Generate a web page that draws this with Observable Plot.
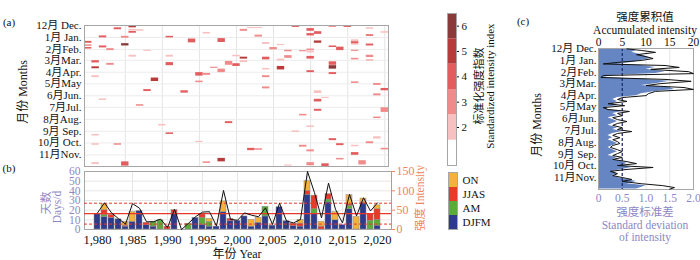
<!DOCTYPE html>
<html><head><meta charset="utf-8">
<script src="https://cdn.jsdelivr.net/npm/d3@7"></script>
<script src="https://cdn.jsdelivr.net/npm/@observablehq/plot@0.6"></script>
<style>
body{margin:0;background:#fff;}
#root{position:relative;width:700px;height:260px;overflow:hidden;background:#fff;font-family:"Liberation Serif","Noto Sans CJK SC",serif;color:#111;}
#root svg{position:absolute;}
</style></head><body><div id="root"></div>
<script>
// ---------- Panel (a): events (year, start day of season from 1 Dec, duration in days, standardized index)
const evYear  = [1984,1986,1986,1986,1987,1982,1985,1991,1980,1980,1980,1985,1982,1983,1988,1986,1991,1981,1983,1991,1981,1981,1989,1988,1993,1982,1987,1990,1991,1981,1981,1984,1981,1985,
 1996,2001,2002,2003,2003,1994,1998,2004,2005,2006,2007,2000,2001,2001,2004,2006,2007,1999,2000,1997,1998,2006,2004,1995,1996,2004,1995,2004,1999,1995,2002,2003,1996,1998,2007,
 2008,2010,2010,2011,2013,2015,2018,2018,2020,2011,2013,2014,2016,2016,2016,2018,2009,2010,2010,2016,2010,2018,2018,2016,2013,2013,2013,2010,2016,2019,2020,2019,2011,2012,2011,2011,2020,2009,2019,2010,2008,2013,2018,2019,2009,2014,2016,2020,2010,2016,2014,2017,2010,2012];
const evStart = [6,1,10,15,11,27,28,28,41,50,57,47,53,60,64,77,77,91,98,96,107,130,136,166,169,190,205,256,278,282,306,306,355,353,
 18,10,5,5,25,35,34,44,57,49,64,77,82,91,82,87,78,93,99,108,113,106,111,122,124,130,144,159,249,300,318,319,353,344,361,
 1,8,21,16,1,1,6,24,16,40,53,56,37,42,48,48,65,61,66,64,80,77,88,85,94,104,122,117,146,150,163,177,169,186,191,217,213,230,237,260,273,293,301,288,310,306,310,318,322,329,344,350,355,358];
const evDur   = [5,5,3,5,4,5,5,4,5,4,4,6,5,5,3,5,5,6,5,8,5,5,9,5,6,4,4,4,4,4,4,4,5,11,
 4,5,3,3,5,10,10,5,6,3,4,4,5,5,7,5,7,10,7,3,9,9,4,9,5,5,4,5,5,3,6,4,4,9,3,
 4,7,6,7,4,4,4,4,4,6,4,9,5,6,3,5,3,4,5,3,7,6,5,4,9,9,5,5,4,5,6,5,7,3,7,5,12,4,4,4,4,5,5,6,5,5,4,4,5,7,4,11,8,7];
const evIndex = [4,5,2,4,2,4,3,4,4,3,4,6,4,3,2,2,2,4,3,4,5,2,5,4,4,2,3,2,4,2,2,3,2,4,
 2,3,2,2,3,4,4,2,3,2,3,2,5,2,4,2,3,3,4,3,3,5,2,4,3,3,3,3,4,2,4,3,3,5,2,
 4,4,4,4,3,4,2,4,2,5,4,4,2,4,2,4,3,3,2,3,4,3,2,3,4,6,4,4,3,3,4,3,2,2,4,4,3,3,3,2,2,4,3,2,3,4,2,3,3,4,3,3,3,4];
const indexLevels = [1,2,3,4,5,6];
const indexTicks = [2,3,4,5,6];
const indexColors = ["#ffffff","#f7c1c1","#f08b8b","#e35d5f","#b83b3b","#8b3a3a"];
const monthStart = [0,31,62,90,121,151,182,212,243,274,304,335];
const monthLabel = ["12月 Dec.","1月 Jan.","2月Feb.","3月Mar.","4月Apr.","5月May","6月Jun.","7月Jul.","8月Aug.","9月 Sep.","10月 Oct.","11月Nov."];
const gridYears = [1985,1990,1995,2000,2005,2010,2015,2020];

// ---------- Panel (b): days per season and intensity
const years = d3.range(1980, 2021);
const djfm = [16,13,12,10.5,3,8,19,4.5,3,0,0,17,0,0,12,5,3,3,18,8.5,9,13.5,3,7,13.5,4,23,8.5,3.5,3,36,16,0,28,9.5,4.5,21,0,27,0,4];
const am   = [0,2,0,0,0,0,0,0,5,9.5,0,0,0,6,0,7,5,0,0,0,0,0,0,0,10,0,0,0,0,0,0,5,0,3,0,0,3.5,0,0,9,6];
const jjas = [0,5,3,0,1,0,0,2.5,0,0,3,3,0,0,0,3.5,0,0,0,2.5,0,0,0,0,0,0,0,0,2.5,3,4,14,3,5.5,0,0,1.5,0,1,7,11];
const on   = [0,6,0,0,4,10,0,0,0,0,0,0,0,0,0,0,3,0,11,0,0,0,7,5,0,0,0,0,0,4,10,0,5,0,8.5,0,9.5,13,4,0,4];
const intensity = [43,69,43,28,14,67,55,20,20,27,5,52,0,16,33,45,46,9,101,26,24,43,37,33,56,13,68,22,17,26,150,95,30,120,52,17,91,35,82,48,69];
const intensityMean = [41];
const intensityBand = [14,68];
const seasons = ["DJFM","AM","JJAS","ON"];
const legendOrder = ["ON","JJAS","AM","DJFM"];
const seasonColors = ["#2e3b8c","#5aab3c","#e8392b","#f3b33b"];
const tickYears = [1980,1985,1990,1995,2000,2005,2010,2015,2020];

// ---------- Panel (c): accumulated intensity and its standard deviation by day of season
const profDay = [1,5,10,16,21,26,31,36,40,44,49,54,60,65,70,75,80,85,91,96,101,106,111,117,122,127,132,137,143,148,153,158,163,168,174,179,184,189,194,199,205,210,215,220,225,231,236,241,246,251,256,262,267,272,277,282,287,293,298,303,308,313,318,324,329,334,339,344,350,355,360,364];
const accumulated = [6,8,7,9,10,11,9,7,4,9,12,10,14,12,3,1,10,15,12,9,15,16,12,9,8,4,3,4,3,4,1.5,2,5,3,4,2,3,4,3,2,4,3,5,3,2,3,2,3,4,3,2,3,4,3,2,4,3,5,6,5,7,5,3,4,3,4,6,8,6,10,9,8];
const stdDev = [0.6,0.9,1.2,0.8,1.0,1.15,0.9,0.4,0.1,1.4,1.7,1.1,1.9,2.0,0.1,0.05,1.4,1.95,1.3,1.0,1.8,2.0,1.2,1.05,1.0,0.5,0.4,0.6,0.2,0.55,0.1,0.2,0.65,0.4,0.5,0.3,0.4,0.6,0.4,0.3,0.5,0.4,0.7,0.4,0.3,0.45,0.3,0.4,0.45,0.3,0.25,0.4,0.5,0.4,0.3,0.5,0.3,0.6,0.8,0.4,1.15,0.6,0.25,0.4,0.3,0.5,0.7,0.5,0.9,1.35,1.6,1.5];
const accTicks = [0,5,10,15,20];
const stdTicks = [0,0.5,1,1.5,2];
const accRef = [5];

// ---------- helpers
const root = document.getElementById("root");
const FONT = '"Liberation Serif","Noto Sans CJK SC",serif';
const LAV = "#8c87c6", ORANGE = "#f0845c";
const baseStyle = {fontFamily: FONT, fontSize: "11px", background: "transparent", color: "#111", overflow: "visible"};
function put(svg, left, top){ svg.style.left = left + "px"; svg.style.top = top + "px"; root.append(svg); }
function txt(s, x, y, o = {}){
  const d = document.createElement("div");
  d.textContent = s;
  d.style.cssText = `position:absolute;left:${x}px;top:${y}px;white-space:nowrap;line-height:1;font-size:${o.size||11}px;color:${o.color||"#111"};transform:translate(-50%,-50%)${o.rot?" rotate(-90deg)":""};`;
  root.append(d);
}
const colorIdx = {type: "threshold", domain: [1.5,2.5,3.5,4.5,5.5], range: indexColors};
const monthFmt = d => monthLabel[monthStart.indexOf(d)];

// ---------- Panel (a)
const events = evYear.map((y, i) => ({year: y, start: evStart[i], end: Math.min(365, evStart[i] + evDur[i]), idx: evIndex[i]}));
put(Plot.plot({
  width: 400, height: 170, marginLeft: 84, marginRight: 12, marginTop: 25, marginBottom: 4,
  style: baseStyle,
  x: {domain: [1979.5, 2020.5], axis: null, label: null},
  y: {domain: [0, 365], reverse: true, axis: null, label: null},
  color: colorIdx,
  marks: [
    Plot.ruleX(gridYears, {stroke: "#e4e4e4"}),
    Plot.ruleY(monthStart, {stroke: "#ececec"}),
    Plot.rect(events, {x1: d => d.year - 0.5, x2: d => d.year + 0.5, y1: "start", y2: "end", fill: "idx"}),
    Plot.frame({stroke: "#a6a6a6"}),
    Plot.axisY(monthStart, {tickFormat: monthFmt, tickSize: 0, tickPadding: 3, fontSize: 11, label: null})
  ]
}), 0, 0);

// colour bar
put(Plot.plot({
  width: 40, height: 170, marginLeft: 7, marginRight: 24, marginTop: 13, marginBottom: 5,
  style: baseStyle,
  y: {domain: [0.5, 6.5], axis: null, label: null},
  color: colorIdx,
  marks: [
    Plot.rect(indexLevels, {y1: d => d - 0.5, y2: d => d + 0.5, fill: d => d}),
    Plot.frame({stroke: "#a6a6a6"}),
    Plot.axisY(indexTicks, {anchor: "right", tickSize: 2, tickPadding: 3, fontSize: 11, label: null})
  ]
}), 440, 0);

// ---------- Panel (b)
const seasonArrays = [djfm, am, jjas, on];
const bars = years.flatMap((y, i) => seasons.map((s, k) => ({year: y, season: s, days: seasonArrays[k][i]}))).filter(d => d.days > 0);
const xBand = {type: "band", domain: years, paddingInner: 0.12, paddingOuter: 0.06, label: null};
put(Plot.plot({
  width: 400, height: 100, marginLeft: 84, marginRight: 9, marginTop: 11, marginBottom: 31,
  style: baseStyle,
  x: {...xBand, axis: null},
  y: {domain: [0, 60], axis: null, label: null},
  color: {domain: seasons, range: seasonColors},
  marks: [
    Plot.ruleY([10,20,30,40,50], {stroke: "#e6e6e6"}),
    Plot.ruleX(tickYears.slice(1, -1), {stroke: "#e6e6e6"}),
    Plot.barY(bars, {x: "year", y: "days", fill: "season", order: seasons, stroke: "#8c8c8c", strokeWidth: 0.5}),
    Plot.frame({stroke: "#a6a6a6"}),
    Plot.axisY([0,10,20,30,40,50,60], {tickSize: 0, tickPadding: 4, fontSize: 11.5, color: LAV, label: null}),
    Plot.axisX(tickYears, {tickSize: 0, tickPadding: 6, fontSize: 12.5, color: "#111", label: null})
  ]
}), 0, 160);

const lineData = years.map((y, i) => ({year: y, value: intensity[i]}));
put(Plot.plot({
  width: 400, height: 100, marginLeft: 84, marginRight: 9, marginTop: 11, marginBottom: 31,
  style: baseStyle,
  x: {...xBand, axis: null},
  y: {domain: [0, 150], axis: null, label: null},
  marks: [
    Plot.ruleY(intensityMean, {stroke: "#e8392b", strokeWidth: 1.2}),
    Plot.ruleY(intensityBand, {stroke: "#e8392b", strokeWidth: 1, strokeDasharray: "3,2"}),
    Plot.line(lineData, {x: "year", y: "value", stroke: "#111", strokeWidth: 1}),
    Plot.axisY([0,50,100,150], {anchor: "right", tickSize: 3, tickPadding: 2, fontSize: 12, color: ORANGE, label: null})
  ]
}), 0, 160);
// right axis line of (b)
const ax = document.createElement("div");
ax.style.cssText = `position:absolute;left:390.5px;top:171px;width:1px;height:58px;background:${ORANGE};`;
root.append(ax);

// legend of (b)
put(Plot.plot({
  width: 60, height: 62, marginLeft: 8, marginRight: 43, marginTop: 2, marginBottom: 3,
  style: baseStyle,
  y: {type: "band", domain: legendOrder, padding: 0, axis: null, label: null},
  color: {domain: seasons, range: seasonColors},
  marks: [
    Plot.cell(legendOrder, {y: d => d, fill: d => d}),
    Plot.frame({stroke: "#a6a6a6"}),
    Plot.axisY({anchor: "right", tickSize: 0, tickPadding: 5, fontSize: 11, label: null})
  ]
}), 440, 170);

// ---------- Panel (c)
const prof = profDay.map((d, i) => ({day: d, acc: accumulated[i], std: stdDev[i]}));
put(Plot.plot({
  width: 260, height: 260, marginLeft: 158, marginRight: 7, marginTop: 48, marginBottom: 71,
  style: baseStyle,
  x: {domain: [0, 20], axis: null, label: null},
  y: {domain: [0, 365], reverse: true, axis: null, label: null},
  marks: [
    Plot.ruleX([10, 15], {stroke: "#e4e4e4"}),
    Plot.areaX(prof, {y: "day", x1: 0, x2: "acc", fill: "#5d7fc0", fillOpacity: 0.95}),
    Plot.ruleX(accRef, {stroke: "#1f2c72", strokeWidth: 1.3, strokeDasharray: "3,2"}),
    Plot.frame({stroke: "#a6a6a6"}),
    Plot.axisX(accTicks, {anchor: "top", tickSize: 0, tickPadding: 3, fontSize: 11.5, label: null}),
    Plot.axisY(monthStart, {tickFormat: monthFmt, tickSize: 0, tickPadding: 2, fontSize: 11, label: null})
  ]
}), 440, 0);
put(Plot.plot({
  width: 260, height: 260, marginLeft: 158, marginRight: 7, marginTop: 48, marginBottom: 71,
  style: baseStyle,
  x: {domain: [0, 2], axis: null, label: null},
  y: {domain: [0, 365], reverse: true, axis: null, label: null},
  marks: [
    Plot.line(prof, {x: "std", y: "day", stroke: "#111", strokeWidth: 1}),
    Plot.axisX(stdTicks, {anchor: "bottom", tickSize: 0, tickPadding: 4, fontSize: 11.5, color: LAV, label: null, tickFormat: d => d === 0 ? "0" : d.toFixed(1)})
  ]
}), 440, 0);

// ---------- texts
txt("(a)", 9, 22, {size: 11});
txt("(b)", 9, 168, {size: 11});
txt("(c)", 523, 21, {size: 11});
txt("月份 Months", 23, 92, {size: 12, rot: true});
txt("标准化强度指数", 479, 86, {size: 11, rot: true});
txt("Standardized intensity index", 490, 86, {size: 11, rot: true});
txt("天数", 47, 203, {size: 11.5, rot: true, color: LAV});
txt("Days/d", 58, 207, {size: 11.5, rot: true, color: LAV});
txt("强度 Intensity", 421, 198, {size: 11.5, rot: true, color: ORANGE});
txt("年份 Year", 237, 254, {size: 12});
txt("强度累积值", 645, 18, {size: 11.5});
txt("Accumulated intensity", 645, 31, {size: 11.5});
txt("月份 Months", 537, 125, {size: 12, rot: true});
txt("强度标准差", 645, 213, {size: 11.5, color: LAV});
txt("Standard deviation", 645, 226, {size: 11.5, color: LAV});
txt("of intensity", 645, 238, {size: 11.5, color: LAV});
</script></body></html>
